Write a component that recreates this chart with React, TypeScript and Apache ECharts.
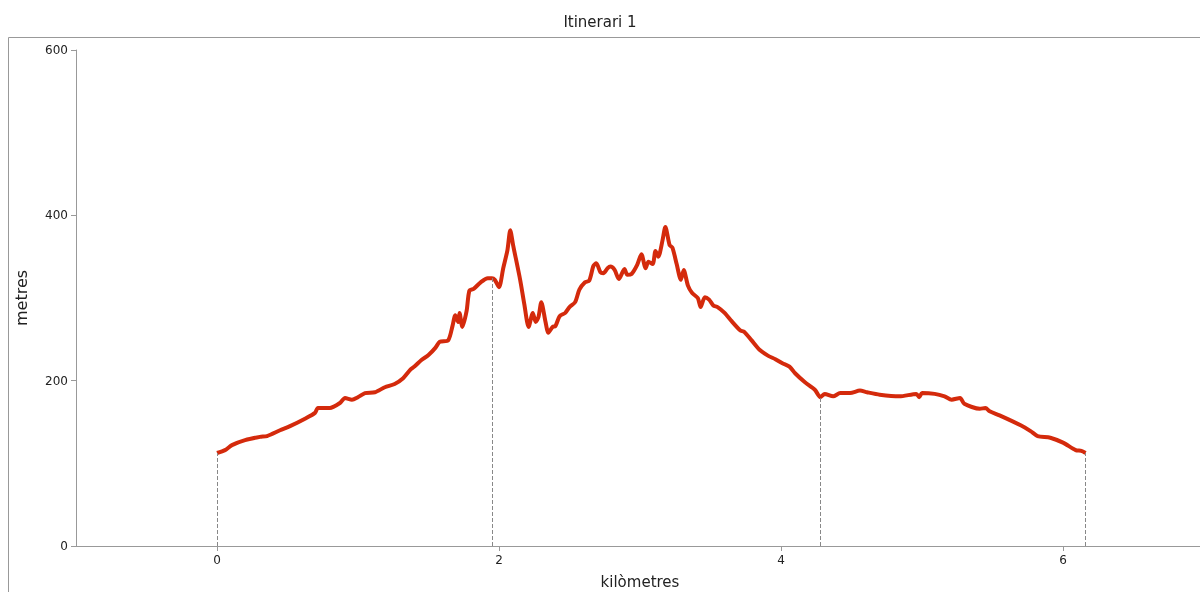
import React, { useEffect, useRef } from "react";
import * as echarts from "echarts";

const title = "Itinerari 1";
const xName = "kilòmetres";
const yName = "metres";

const km = [
  0, 0.057, 0.106, 0.199, 0.305, 0.355, 0.447, 0.518, 0.624, 0.695, 0.716, 0.801, 0.872, 0.908, 0.957, 0.999,
  1.05, 1.12, 1.19, 1.26, 1.32, 1.37, 1.40, 1.45, 1.50, 1.55, 1.58, 1.64, 1.67, 1.69, 1.71, 1.72, 1.74, 1.77,
  1.79, 1.82, 1.87, 1.92, 1.95, 1.97, 2.0, 2.03, 2.06, 2.08, 2.10, 2.15, 2.18, 2.21, 2.24, 2.26, 2.28, 2.30,
  2.33, 2.35, 2.38, 2.40, 2.43, 2.47, 2.50, 2.54, 2.57, 2.61, 2.64, 2.67, 2.69, 2.72, 2.74, 2.77, 2.79, 2.82,
  2.85, 2.89, 2.91, 2.94, 2.98, 3.01, 3.04, 3.06, 3.09, 3.11, 3.13, 3.16, 3.18, 3.21, 3.23, 3.26, 3.29, 3.31,
  3.34, 3.37, 3.41, 3.43, 3.46, 3.49, 3.52, 3.55, 3.60, 3.65, 3.71, 3.74, 3.79, 3.85, 3.91, 3.96, 4.01, 4.06,
  4.10, 4.17, 4.24, 4.28, 4.31, 4.37, 4.42, 4.49, 4.56, 4.61, 4.70, 4.84, 4.96, 4.98, 5.00, 5.09, 5.16, 5.21,
  5.27, 5.30, 5.41, 5.45, 5.48, 5.55, 5.70, 5.77, 5.82, 5.91, 6.0, 6.09, 6.13, 6.16,
];

const metres = [
  112.5, 116, 122, 128, 132, 133, 140, 145, 154, 161, 167, 167, 173, 179, 177, 180,
  185, 186, 192, 196, 203, 213, 217, 225, 231, 240, 247, 249, 266, 279, 271, 282, 265, 284,
  309, 311, 319, 324, 324, 322, 313, 336, 358, 382, 364, 322, 292, 265, 282, 271, 277, 295,
  271, 258, 265, 266, 278, 282, 289, 295, 310, 319, 321, 339, 342, 331, 330, 336, 338, 334,
  323, 335, 328, 329, 340, 353, 336, 344, 341, 357, 350, 370, 386, 364, 361, 341, 322, 334,
  315, 306, 300, 289, 301, 298, 291, 289, 282, 272, 261, 259, 249, 237, 230, 226, 221, 217,
  209, 198, 189, 180, 184, 181, 185, 185, 188, 186, 183, 181, 184, 180, 185, 184, 181, 177,
  179, 172, 166, 167, 163, 158, 146, 139, 133, 131, 125, 116, 115, 112.5,
];

// distances (km) where vertical guide lines are drawn down to the profile
const markerKm = [0, 1.95, 4.28, 6.16];
const markerMetres = [112.5, 324, 180, 112.5];

const xTicks = [0, 2, 4, 6];

export default function App() {
  const ref = useRef<HTMLDivElement>(null);
  useEffect(() => {
    if (!ref.current) return;
    const chart = echarts.init(ref.current, null, { renderer: "svg" });
    const font = "DejaVu Sans";
    const data = km.map((k, i) => [k, metres[i]]);
    chart.setOption({
      animation: false,
      textStyle: { fontFamily: font },
      title: {
        text: title,
        left: "center",
        top: 9,
        textStyle: { fontFamily: font, fontSize: 15, fontWeight: "normal", color: "#222" },
      },
      graphic: [
        {
          type: "rect",
          shape: { x: 8.5, y: 37.5, width: 1300, height: 700 },
          style: { fill: "none", stroke: "#999", lineWidth: 1 },
          silent: true,
          z: -1,
        },
      ],
      grid: {
        left: 76,
        right: -4,
        top: 50,
        bottom: 46,
        containLabel: false,
        outerBoundsMode: "none",
      },
      xAxis: {
        type: "value",
        min: -1,
        max: 7,
        name: xName,
        nameLocation: "middle",
        nameGap: 28,
        nameTextStyle: { fontFamily: font, fontSize: 15, color: "#222" },
        axisLine: { onZero: false, lineStyle: { color: "#999" } },
        axisTick: { show: true, customValues: xTicks, length: 5, lineStyle: { color: "#999" } },
        axisLabel: { customValues: xTicks, color: "#222", fontSize: 12, margin: 8 },
        splitLine: { show: false },
      },
      yAxis: {
        type: "value",
        min: 0,
        max: 600,
        interval: 200,
        name: yName,
        nameLocation: "middle",
        nameGap: 47,
        nameTextStyle: { fontFamily: font, fontSize: 16, color: "#222" },
        axisLine: { show: true, onZero: false, lineStyle: { color: "#999" } },
        axisTick: { show: true, length: 5, lineStyle: { color: "#999" } },
        axisLabel: { color: "#222", fontSize: 12, margin: 8 },
        splitLine: { show: false },
      },
      series: [
        {
          type: "line",
          data,
          smooth: 0.25,
          showSymbol: false,
          lineStyle: { color: "#d42a0c", width: 4 },
          itemStyle: { color: "#d42a0c" },
          z: 3,
          markLine: {
            silent: true,
            symbol: ["none", "none"],
            label: { show: false },
            lineStyle: { color: "#888", type: "dashed", width: 1 },
            data: markerKm.map((k, i) => [
              { coord: [k, 0] },
              { coord: [k, markerMetres[i]] },
            ]),
          },
        },
      ],
    });
    return () => chart.dispose();
  }, []);
  return (
    <div
      ref={ref}
      style={{ position: "fixed", left: 0, top: 0, width: 1200, height: 592 }}
    />
  );
}
